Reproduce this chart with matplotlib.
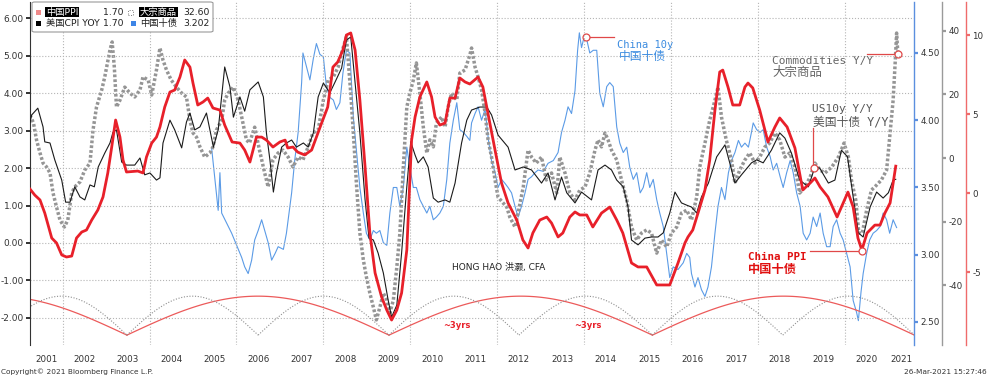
import numpy as np
import matplotlib
matplotlib.use('Agg')
import matplotlib.pyplot as plt
from matplotlib.patches import FancyBboxPatch, Rectangle
from matplotlib.ticker import FormatStrFormatter

plt.rcParams['font.family'] = ['DejaVu Sans', 'Noto Sans CJK SC']
plt.rcParams['axes.unicode_minus'] = False
MONO = ['DejaVu Sans Mono', 'Noto Sans CJK SC']

# 中国PPI (右侧红轴)
ppi_t = [2001.25, 2001.36, 2001.48, 2001.59, 2001.75, 2001.86, 2001.98, 2002.09, 2002.21, 2002.32,
         2002.44, 2002.55, 2002.67, 2002.81, 2002.93, 2003.04, 2003.13, 2003.22, 2003.32, 2003.39,
         2003.47, 2003.73, 2003.85, 2003.93, 2004.05, 2004.16, 2004.24, 2004.35, 2004.47, 2004.58,
         2004.70, 2004.81, 2004.93, 2005.00, 2005.11, 2005.23, 2005.34, 2005.46, 2005.62, 2005.73,
         2005.90, 2006.08, 2006.19, 2006.31, 2006.46, 2006.58, 2006.69, 2006.84, 2007.00, 2007.12,
         2007.18, 2007.30, 2007.41, 2007.57, 2007.73, 2007.84, 2007.96, 2008.10, 2008.22, 2008.33,
         2008.45, 2008.53, 2008.63, 2008.73, 2008.84, 2008.96, 2009.07, 2009.19, 2009.34, 2009.46,
         2009.57, 2009.69, 2009.80, 2009.92, 2010.03, 2010.11, 2010.22, 2010.38, 2010.49, 2010.57,
         2010.68, 2010.80, 2010.91, 2011.03, 2011.14, 2011.26, 2011.37, 2011.56, 2011.67, 2011.83,
         2011.95, 2012.10, 2012.25, 2012.45, 2012.59, 2012.71, 2012.82, 2012.98, 2013.14, 2013.25,
         2013.40, 2013.51, 2013.67, 2013.79, 2013.90, 2014.06, 2014.20, 2014.40, 2014.59, 2014.75,
         2014.89, 2015.09, 2015.24, 2015.44, 2015.67, 2015.97, 2016.16, 2016.32, 2016.39, 2016.50,
         2016.62, 2016.78, 2016.89, 2017.01, 2017.12, 2017.19, 2017.31, 2017.42, 2017.58, 2017.70,
         2017.77, 2017.88, 2018.04, 2018.23, 2018.39, 2018.50, 2018.67, 2018.85, 2019.03, 2019.20,
         2019.31, 2019.43, 2019.61, 2019.82, 2019.94, 2020.07, 2020.19, 2020.30, 2020.39, 2020.51,
         2020.69, 2020.81, 2020.92, 2021.04, 2021.17]
ppi_v = [0.25, -0.13, -0.44, -1.27, -2.85, -3.16, -3.92, -4.05, -3.99, -2.85,
         -2.47, -2.34, -1.71, -1.08, -0.25, 1.27, 2.91, 4.62, 3.54, 2.09,
         1.33, 1.39, 1.27, 2.28, 3.16, 3.54, 4.18, 5.44, 6.39, 6.52,
         7.34, 8.42, 7.97, 6.96, 5.57, 5.76, 6.01, 5.38, 5.25, 4.30,
         3.23, 3.16, 2.72, 1.96, 3.54, 3.54, 3.35, 2.91, 3.23, 3.35,
         2.85, 2.91, 2.59, 2.41, 2.72, 3.54, 4.43, 5.44, 7.97, 8.29,
         9.05, 10.0, 10.13, 9.05, 5.89, 1.65, -2.53, -5.06, -6.58, -7.41,
         -8.04, -7.41, -6.33, -3.61, 3.35, 4.81, 6.08, 7.03, 6.08, 4.81,
         4.30, 4.43, 6.01, 6.01, 7.28, 7.03, 6.90, 7.34, 6.71, 4.43,
         2.72, 0.63, -0.63, -1.71, -2.97, -3.48, -2.53, -1.71, -1.52, -1.90,
         -2.78, -2.53, -1.52, -1.20, -1.39, -1.39, -2.15, -1.27, -0.89, -1.71,
         -2.53, -4.43, -4.68, -4.68, -5.82, -5.82, -4.43, -3.16, -2.78, -2.34,
         -1.27, 0.19, 2.09, 5.25, 7.66, 7.78, 6.71, 5.57, 5.57, 6.71,
         6.96, 6.65, 5.25, 3.23, 4.18, 4.75, 4.18, 2.85, 0.19, 0.63,
         0.95, 0.38, -0.25, -1.52, -0.76, 0.06, -0.89, -2.85, -3.61, -2.53,
         -2.03, -2.03, -1.27, -0.63, 1.70]

# 美国CPI YOY (左轴)
cpi_t = [2001.25, 2001.29, 2001.43, 2001.55, 2001.59, 2001.71, 2001.82, 2001.98, 2002.07, 2002.17,
         2002.28, 2002.40, 2002.51, 2002.63, 2002.73, 2002.82, 2002.97, 2003.09, 2003.16, 2003.24,
         2003.36, 2003.47, 2003.66, 2003.78, 2003.89, 2004.01, 2004.16, 2004.24, 2004.31, 2004.47,
         2004.58, 2004.74, 2004.85, 2004.93, 2005.04, 2005.16, 2005.31, 2005.47, 2005.58, 2005.73,
         2005.85, 2005.93, 2006.08, 2006.19, 2006.31, 2006.50, 2006.62, 2006.69, 2006.77, 2006.85,
         2006.92, 2007.04, 2007.15, 2007.27, 2007.38, 2007.54, 2007.65, 2007.77, 2007.88, 2008.00,
         2008.15, 2008.27, 2008.42, 2008.53, 2008.63, 2008.73, 2008.84, 2008.96, 2009.05, 2009.15,
         2009.26, 2009.38, 2009.49, 2009.57, 2009.69, 2009.80, 2009.92, 2010.01, 2010.11, 2010.18,
         2010.30, 2010.41, 2010.53, 2010.64, 2010.80, 2010.91, 2011.03, 2011.18, 2011.30, 2011.41,
         2011.60, 2011.76, 2011.87, 2012.02, 2012.25, 2012.41, 2012.60, 2012.79, 2013.02, 2013.17,
         2013.33, 2013.48, 2013.60, 2013.79, 2013.94, 2014.17, 2014.32, 2014.48, 2014.63, 2014.75,
         2014.90, 2015.01, 2015.09, 2015.24, 2015.40, 2015.55, 2015.70, 2015.82, 2015.97, 2016.09,
         2016.24, 2016.36, 2016.47, 2016.59, 2016.70, 2016.86, 2017.05, 2017.24, 2017.35, 2017.47,
         2017.62, 2017.85, 2017.97, 2018.12, 2018.31, 2018.50, 2018.62, 2018.77, 2018.96, 2019.16,
         2019.31, 2019.42, 2019.62, 2019.77, 2019.92, 2020.06, 2020.19, 2020.31, 2020.42, 2020.58,
         2020.73, 2020.88, 2021.00, 2021.11, 2021.17]
cpi_v = [3.23, 3.42, 3.60, 3.10, 2.70, 2.67, 2.22, 1.68, 1.09, 1.09,
         1.50, 1.23, 1.15, 1.55, 1.50, 2.03, 2.40, 2.67, 2.96, 3.02,
         2.16, 2.08, 2.08, 2.27, 1.82, 1.87, 1.68, 1.74, 2.67, 3.28,
         3.02, 2.54, 3.23, 3.47, 3.02, 3.10, 3.47, 2.56, 3.02, 4.70,
         4.17, 3.36, 3.90, 3.52, 4.09, 4.30, 3.90, 2.94, 2.22, 1.36,
         1.87, 2.56, 2.67, 2.75, 2.56, 2.67, 2.56, 2.94, 3.90, 4.27,
         4.01, 4.30, 4.67, 5.42, 5.50, 4.27, 2.94, 1.15, 0.13, 0.08,
         -0.27, -0.80, -1.52, -1.98, -1.66, -0.27, 1.50, 2.70, 2.35, 2.14,
         2.30, 2.03, 1.20, 1.09, 1.15, 1.09, 1.60, 2.67, 3.28, 3.55,
         3.63, 3.63, 3.42, 2.88, 2.56, 1.95, 2.03, 1.95, 1.60, 1.87,
         1.15, 1.76, 1.34, 1.07, 1.36, 1.15, 1.95, 2.08, 1.95, 1.68,
         1.50, 0.96, 0.08, -0.05, 0.13, 0.16, 0.16, 0.27, 0.80, 1.36,
         1.07, 1.01, 0.96, 0.80, 1.23, 1.60, 2.30, 2.62, 2.14, 1.60,
         1.82, 2.14, 2.22, 2.14, 2.48, 2.94, 2.80, 2.40, 1.68, 1.50,
         2.03, 2.00, 1.60, 1.68, 2.48, 2.30, 1.23, 0.27, 0.16, 0.96,
         1.36, 1.20, 1.34, 1.68, 1.70]

# 大宗商品 Y/Y (右侧灰轴)
com_t = [2001.25, 2001.33, 2001.40, 2001.48, 2001.55, 2001.63, 2001.71, 2001.78, 2001.86, 2001.94,
         2002.04, 2002.12, 2002.21, 2002.28, 2002.40, 2002.51, 2002.63, 2002.70, 2002.78, 2002.90,
         2002.97, 2003.09, 2003.14, 2003.19, 2003.24, 2003.32, 2003.43, 2003.55, 2003.66, 2003.78,
         2003.85, 2003.97, 2004.05, 2004.16, 2004.24, 2004.31, 2004.39, 2004.50, 2004.62, 2004.74,
         2004.85, 2004.93, 2005.00, 2005.08, 2005.16, 2005.27, 2005.39, 2005.46, 2005.54, 2005.66,
         2005.73, 2005.81, 2005.93, 2006.04, 2006.16, 2006.23, 2006.30, 2006.42, 2006.53, 2006.65,
         2006.73, 2006.84, 2006.96, 2007.07, 2007.19, 2007.30, 2007.42, 2007.53, 2007.65, 2007.76,
         2007.88, 2008.00, 2008.11, 2008.23, 2008.34, 2008.42, 2008.53, 2008.63, 2008.69, 2008.76,
         2008.84, 2008.92, 2008.99, 2009.07, 2009.15, 2009.22, 2009.30, 2009.38, 2009.46, 2009.53,
         2009.61, 2009.69, 2009.76, 2009.84, 2009.92, 2009.99, 2010.07, 2010.14, 2010.22, 2010.30,
         2010.38, 2010.45, 2010.53, 2010.60, 2010.72, 2010.80, 2010.87, 2010.95, 2011.07, 2011.14,
         2011.26, 2011.37, 2011.41, 2011.49, 2011.56, 2011.64, 2011.72, 2011.79, 2011.87, 2011.95,
         2012.02, 2012.14, 2012.22, 2012.29, 2012.41, 2012.48, 2012.60, 2012.71, 2012.79, 2012.90,
         2013.02, 2013.13, 2013.25, 2013.37, 2013.44, 2013.56, 2013.67, 2013.79, 2013.90, 2014.02,
         2014.13, 2014.25, 2014.32, 2014.40, 2014.48, 2014.55, 2014.63, 2014.75, 2014.86, 2014.98,
         2015.09, 2015.21, 2015.32, 2015.44, 2015.55, 2015.67, 2015.78, 2015.90, 2016.01, 2016.13,
         2016.24, 2016.36, 2016.47, 2016.59, 2016.66, 2016.78, 2016.89, 2017.01, 2017.08, 2017.16,
         2017.27, 2017.39, 2017.47, 2017.58, 2017.70, 2017.81, 2017.93, 2018.04, 2018.16, 2018.27,
         2018.39, 2018.50, 2018.62, 2018.73, 2018.85, 2018.96, 2019.08, 2019.20, 2019.31, 2019.43,
         2019.54, 2019.70, 2019.85, 2019.98, 2020.08, 2020.15, 2020.25, 2020.32, 2020.40, 2020.50,
         2020.61, 2020.73, 2020.84, 2020.96, 2021.03, 2021.11, 2021.16, 2021.19, 2021.22]
com_v = [13.5, 11.0, 5.7, 1.6, -1.6, -2.8, -4.7, -11.0, -15.4, -19.5,
         -21.7, -19.5, -11.0, -9.1, -7.5, -3.8, -1.6, 8.8, 16.0, 21.4,
         25.5, 34.0, 36.5, 28.6, 16.0, 18.2, 22.3, 20.4, 19.2, 21.4,
         25.5, 24.5, 19.8, 27.7, 34.6, 30.8, 27.7, 24.5, 22.3, 20.4,
         19.2, 11.9, 7.9, 6.6, 3.5, 0.3, 1.6, 3.5, 8.8, 11.9,
         18.2, 20.4, 22.3, 18.2, 10.4, 5.7, 4.7, 9.7, 2.5, -4.7,
         -9.1, -0.6, 1.6, 2.5, 0.3, -2.8, 0.3, -0.6, 3.5, 7.9,
         8.8, 18.2, 24.5, 25.5, 28.6, 33.0, 38.1, 20.4, 7.9, -7.9,
         -23.6, -32.1, -37.4, -42.5, -46.9, -50.9, -46.9, -42.5, -44.7, -48.7,
         -44.7, -34.3, -23.6, -2.8, 16.0, 20.4, 24.5, 29.9, 20.4, 9.7,
         1.6, 5.7, 3.5, 11.0, 12.9, 9.7, 16.0, 20.4, 18.2, 26.7,
         27.7, 32.4, 34.6, 28.6, 25.5, 21.4, 14.2, 5.7, 0.3, -6.9,
         -12.3, -14.2, -15.4, -18.6, -21.7, -17.3, -9.1, 2.5, 0.3, -1.6,
         0.3, -6.9, -4.7, -11.0, 0.3, -4.7, -11.0, -13.2, -10.1, -9.1,
         -4.7, 2.5, 5.7, 3.5, 7.9, 5.7, 2.5, -0.6, -6.9, -13.2,
         -21.7, -25.8, -23.6, -22.6, -23.6, -29.9, -25.8, -28.0, -23.6, -21.7,
         -17.3, -16.4, -19.5, -12.3, -2.8, 4.7, 11.9, 18.2, 22.3, 12.9,
         5.7, -0.6, -7.9, -3.8, -0.6, 1.6, -1.6, 0.3, 3.5, 4.7,
         7.9, 5.7, 0.3, 1.6, -2.8, -11.0, -9.1, -6.0, -1.6, -3.8,
         -4.7, -2.8, 0.3, 4.7, 0.3, -6.9, -13.2, -23.6, -23.6, -16.4,
         -10.1, -8.5, -6.9, -3.8, 6.6, 18.2, 30.8, 39.3, 32.6]

# 中国十债 (右侧蓝轴)
cgb_t = [2005.43, 2005.58, 2005.62, 2005.66, 2005.89, 2006.12, 2006.19, 2006.27, 2006.35, 2006.42,
         2006.50, 2006.58, 2006.65, 2006.73, 2006.81, 2006.89, 2006.96, 2007.08, 2007.15, 2007.27,
         2007.34, 2007.42, 2007.50, 2007.53, 2007.61, 2007.69, 2007.77, 2007.84, 2007.92, 2008.00,
         2008.07, 2008.15, 2008.23, 2008.30, 2008.38, 2008.45, 2008.53, 2008.61, 2008.69, 2008.76,
         2008.84, 2008.92, 2008.99, 2009.07, 2009.15, 2009.22, 2009.30, 2009.38, 2009.46, 2009.53,
         2009.61, 2009.69, 2009.76, 2009.84, 2009.92, 2009.99, 2010.07, 2010.14, 2010.22, 2010.30,
         2010.38, 2010.45, 2010.53, 2010.60, 2010.68, 2010.76, 2010.84, 2010.91, 2010.99, 2011.07,
         2011.14, 2011.22, 2011.30, 2011.37, 2011.41, 2011.49, 2011.56, 2011.64, 2011.72, 2011.80,
         2011.87, 2011.95, 2012.02, 2012.10, 2012.18, 2012.25, 2012.33, 2012.41, 2012.48, 2012.56,
         2012.64, 2012.71, 2012.79, 2012.87, 2012.94, 2013.06, 2013.17, 2013.29, 2013.40, 2013.48,
         2013.56, 2013.63, 2013.71, 2013.79, 2013.85, 2013.89, 2013.94, 2014.00, 2014.06, 2014.13,
         2014.21, 2014.29, 2014.36, 2014.44, 2014.52, 2014.59, 2014.67, 2014.75, 2014.82, 2014.90,
         2014.98, 2015.05, 2015.13, 2015.21, 2015.29, 2015.36, 2015.44, 2015.51, 2015.59, 2015.67,
         2015.74, 2015.82, 2015.90, 2015.97, 2016.05, 2016.16, 2016.28, 2016.36, 2016.43, 2016.47,
         2016.55, 2016.62, 2016.70, 2016.78, 2016.85, 2016.93, 2017.01, 2017.08, 2017.16, 2017.24,
         2017.32, 2017.39, 2017.47, 2017.55, 2017.62, 2017.70, 2017.78, 2017.85, 2017.89, 2017.97,
         2018.05, 2018.12, 2018.20, 2018.28, 2018.35, 2018.43, 2018.51, 2018.58, 2018.66, 2018.74,
         2018.81, 2018.89, 2018.97, 2019.04, 2019.12, 2019.20, 2019.27, 2019.35, 2019.43, 2019.50,
         2019.58, 2019.66, 2019.73, 2019.81, 2019.89, 2019.96, 2020.04, 2020.12, 2020.19, 2020.27,
         2020.31, 2020.37, 2020.42, 2020.50, 2020.57, 2020.65, 2020.73, 2020.81, 2020.88, 2020.96,
         2021.03, 2021.11, 2021.19]
cgb_v = [3.79, 3.33, 3.61, 3.31, 3.16, 2.98, 2.91, 2.86, 2.96, 3.11,
         3.18, 3.26, 3.18, 3.09, 2.96, 3.01, 3.06, 3.04, 3.16, 3.46,
         3.70, 3.91, 4.28, 4.50, 4.40, 4.30, 4.46, 4.57, 4.49, 4.47,
         4.25, 4.17, 4.15, 4.08, 4.13, 4.35, 4.52, 4.50, 4.02, 3.78,
         3.50, 3.31, 3.16, 3.11, 3.18, 3.16, 3.18, 3.09, 3.07, 3.31,
         3.50, 3.50, 3.36, 3.50, 3.80, 3.65, 3.50, 3.50, 3.41, 3.36,
         3.31, 3.36, 3.26, 3.28, 3.31, 3.36, 3.56, 3.83, 4.00, 4.13,
         3.93, 3.91, 3.88, 3.85, 3.98, 4.05, 4.10, 4.00, 4.08, 3.85,
         3.70, 3.61, 3.50, 3.56, 3.53, 3.50, 3.46, 3.36, 3.28, 3.36,
         3.46, 3.56, 3.58, 3.61, 3.63, 3.62, 3.68, 3.70, 3.76, 3.91,
         4.00, 4.10, 4.05, 4.22, 4.52, 4.65, 4.54, 4.62, 4.60, 4.50,
         4.52, 4.52, 4.20, 4.10, 4.25, 4.28, 4.25, 3.95, 3.83, 3.76,
         3.80, 3.65, 3.56, 3.61, 3.46, 3.50, 3.61, 3.50, 3.56, 3.41,
         3.31, 3.21, 3.01, 2.83, 2.91, 2.89, 2.94, 3.01, 2.98, 2.86,
         2.76, 2.83, 2.74, 2.69, 2.76, 2.91, 3.16, 3.36, 3.50, 3.41,
         3.61, 3.70, 3.76, 3.85, 3.80, 3.83, 3.80, 3.91, 3.98, 3.93,
         3.91, 3.93, 3.80, 3.73, 3.63, 3.68, 3.58, 3.50, 3.61, 3.70,
         3.61, 3.46, 3.36, 3.16, 3.11, 3.16, 3.28, 3.21, 3.31, 3.16,
         3.06, 3.06, 3.21, 3.26, 3.16, 3.11, 3.01, 2.91, 2.66, 2.57,
         2.51, 2.72, 2.86, 3.01, 3.11, 3.16, 3.18, 3.21, 3.31, 3.26,
         3.16, 3.26, 3.202]

years = list(range(2001, 2022))
# 周期低点 (~6年 / ~3年)
long_troughs = [1997.45, 2003.48, 2009.51, 2015.57, 2021.60]
short_troughs = [2000.47, 2003.48, 2006.50, 2009.51, 2012.50, 2015.57, 2018.57, 2021.60]
arc_low, arc_high = -2.46, -1.42

RED = '#e8202a'
BLUE = '#5b9be6'
GRAY = '#959595'

W, H = 988, 379
fig = plt.figure(figsize=(W / 100, H / 100), dpi=100)
ax = fig.add_axes([30 / W, 1 - 345 / H, 884 / W, 343 / H])
ax_b = ax.twinx()
ax_g = ax.twinx()
ax_r = ax.twinx()

ax_b.set_zorder(1)
ax_g.set_zorder(2)
ax.set_zorder(3)
ax_r.set_zorder(4)
for a in (ax, ax_b, ax_g, ax_r):
    a.patch.set_visible(False)
    a.spines['top'].set_visible(False)
    a.spines['bottom'].set_visible(False)

x0, x1 = 2001.25, 2021.59
ax.set_xlim(x0, x1)

# 左轴
ax.set_ylim(-2.724, 6.435)
ax.set_yticks(np.arange(-2, 7, 1))
ax.yaxis.set_major_formatter(FormatStrFormatter('%.2f'))
ax.spines['right'].set_visible(False)
ax.spines['left'].set_color('#333333')
ax.tick_params(axis='y', direction='out', length=3, width=1.3, color='#222222',
               labelsize=6.5, labelcolor='#333333', pad=1.5)

label_pos = [(max(y, x0) + min(y + 1, x1)) / 2 for y in years]
ax.set_xticks(label_pos, [str(y) for y in years])
ax.set_xticks(range(2002, 2021, 2), minor=True)
ax.tick_params(axis='x', which='both', length=0, labelsize=6.3, labelcolor='#333333', pad=7)
ax.yaxis.grid(True, ls=':', color='#b5b5b5', lw=0.8)
ax.xaxis.grid(True, which='minor', ls=':', color='#b5b5b5', lw=0.8)
ax.set_axisbelow(True)

# 右侧三条轴
specs = [
    (ax_b, (2.329, 4.879), np.arange(2.5, 4.51, 0.5), '%.2f', 1.0, '#5b8fdf'),
    (ax_g, (-58.8, 49.06), np.arange(-40, 41, 20), '%d', 1 + 28 / 884, '#9a9a9a'),
    (ax_r, (-9.62, 12.09), np.arange(-5, 11, 5), '%d', 1 + 52 / 884, '#ef6b6b'),
]
for a, lim, ticks, fmt, pos, col in specs:
    a.set_ylim(*lim)
    a.set_yticks(ticks)
    a.yaxis.set_major_formatter(FormatStrFormatter(fmt))
    a.spines['left'].set_visible(False)
    a.spines['right'].set_position(('axes', pos))
    a.spines['right'].set_color(col)
    a.spines['right'].set_linewidth(1.0)
    a.tick_params(axis='y', direction='out', length=3, width=1.6, color=col,
                  labelsize=6.3, labelcolor='#333333', pad=1.5)

# 周期弧线
for a_, b_ in zip(long_troughs[:-1], long_troughs[1:]):
    t = np.linspace(a_, b_, 120)
    ax.plot(t, arc_low + (arc_high - arc_low) * np.sin(np.pi * (t - a_) / (b_ - a_)),
            color='#ec5a5a', lw=0.9, zorder=1)
for a_, b_ in zip(short_troughs[:-1], short_troughs[1:]):
    t = np.linspace(a_, b_, 80)
    ax.plot(t, arc_low + (arc_high - arc_low) * np.sin(np.pi * (t - a_) / (b_ - a_)),
            color='#8f8f8f', lw=0.8, ls=(0, (1, 1.5)), zorder=1)

# 数据线
ax_b.plot(cgb_t, cgb_v, color=BLUE, lw=0.8)
ax_g.plot(com_t, com_v, color=GRAY, lw=2.5, ls=(0, (0.8, 0.6)))
ax.plot(cpi_t, cpi_v, color='#1a1a1a', lw=0.8, zorder=4)
ax_r.plot(ppi_t, ppi_v, color=RED, lw=2.0)

# 标注
mk = dict(marker='o', ms=5, mfc='white', mec='#e04848', mew=0.9, ls='none', zorder=6)
ln = dict(color='#e04848', lw=0.9, zorder=5)
ax_b.plot([2014.05, 2014.69], [4.617, 4.617], **ln)
ax_b.plot([2014.05], [4.617], **mk)
ax_g.plot([2020.50, 2021.22], [32.6, 32.6], **ln)
ax_g.plot([2021.22], [32.6], **mk)
ax.plot([2019.27, 2019.27], [3.07, 2.0], **ln)
ax.plot([2019.30], [2.0], **mk)
ax_r.plot([2019.20, 2020.40], [-3.65, -3.65], **ln)
ax_r.plot([2020.40], [-3.65], **mk)

ax_r.text(2014.754, 5.30, 'China 10y', transform=ax.transData, family=MONO, fontsize=7.5,
          color='#3c8ce0', va='center', ha='left', zorder=7)
ax_r.text(2014.80, 4.97, '中国十债', transform=ax.transData, family=MONO, fontsize=8.5,
          color='#3c8ce0', va='center', ha='left', zorder=7)
ax_r.text(2018.314, 4.87, 'Commodities Y/Y', transform=ax.transData, family=MONO, fontsize=8,
          color='#666666', va='center', ha='left', zorder=7)
ax_r.text(2018.34, 4.54, '大宗商品', transform=ax.transData, family=MONO, fontsize=9,
          color='#666666', va='center', ha='left', zorder=7)
ax_r.text(2019.234, 3.565, 'US10y Y/Y', transform=ax.transData, family=MONO, fontsize=8,
          color='#555555', va='center', ha='left', zorder=7)
ax_r.text(2019.264, 3.24, '美国十债 Y/Y', transform=ax.transData, family=MONO, fontsize=8.5,
          color='#555555', va='center', ha='left', zorder=7)
ax_r.text(2017.77, -0.366, 'China PPI', transform=ax.transData, family=MONO, fontsize=7.8,
          color='#e01010', va='center', ha='left', zorder=7, fontweight='bold')
ax_r.text(2017.77, -0.708, '中国十债', transform=ax.transData, family=MONO, fontsize=8.8,
          color='#e01010', va='center', ha='left', zorder=7, fontweight='bold')
ax_r.text(2010.95, -0.654, 'HONG HAO 洪灏, CFA', transform=ax.transData, fontsize=6.5,
          color='#222222', va='center', ha='left', zorder=7)
for xc in (2011.08, 2014.075):
    ax_r.text(xc, -2.216, '~3yrs', transform=ax.transData, fontsize=6, fontweight='bold',
              color=RED, va='center', ha='center', zorder=7)


# 图例框 (像素坐标)
def fx(x):
    return x / W


def fy(y):
    return 1 - y / H


fig.add_artist(FancyBboxPatch((fx(32), fy(32)), (213 - 32) / W, 30 / H,
                              boxstyle='round,pad=0,rounding_size=0.003',
                              transform=fig.transFigure, fc='white', ec='#9a9a9a',
                              lw=0.8, zorder=20))
for x, y, fc, ec in [(38, 12.3, '#f08a8a', 'none'), (38, 23.3, 'black', 'none'),
                     (133.5, 23.3, '#3d85e6', 'none')]:
    fig.add_artist(Rectangle((fx(x - 2.5), fy(y + 2.5)), 5 / W, 5 / H, transform=fig.transFigure,
                             fc=fc, ec=ec, zorder=21))
fig.add_artist(Rectangle((fx(127.5), fy(14.8)), 5 / W, 5 / H, transform=fig.transFigure,
                         fc='none', ec='#777777', lw=0.7, ls=':', zorder=21))
lg = dict(fontsize=6.7, va='center', zorder=22)
fig.text(fx(46), fy(12.3), '中国PPI', color='white',
         bbox=dict(fc='black', ec='none', pad=0.4), **lg)
fig.text(fx(123), fy(12.3), '1.70', color='#222222', ha='right', **lg)
fig.text(fx(140), fy(12.3), '大宗商品', color='white',
         bbox=dict(fc='black', ec='none', pad=0.4), **lg)
fig.text(fx(209.5), fy(12.3), '32.60', color='#222222', ha='right', **lg)
fig.text(fx(46), fy(23.3), '美国CPI YOY', color='#222222', **lg)
fig.text(fx(123), fy(23.3), '1.70', color='#222222', ha='right', **lg)
fig.text(fx(140), fy(23.3), '中国十债', color='#222222', **lg)
fig.text(fx(209.5), fy(23.3), '3.202', color='#222222', ha='right', **lg)

fig.text(fx(1), fy(372), 'Copyright\u00a9 2021 Bloomberg Finance L.P.', fontsize=5.3,
         color='#333333', va='center', ha='left')
fig.text(fx(987), fy(372), '26-Mar-2021 15:27:46', fontsize=5.3,
         color='#333333', va='center', ha='right')

fig.savefig('out.png', dpi=100, facecolor='white')
